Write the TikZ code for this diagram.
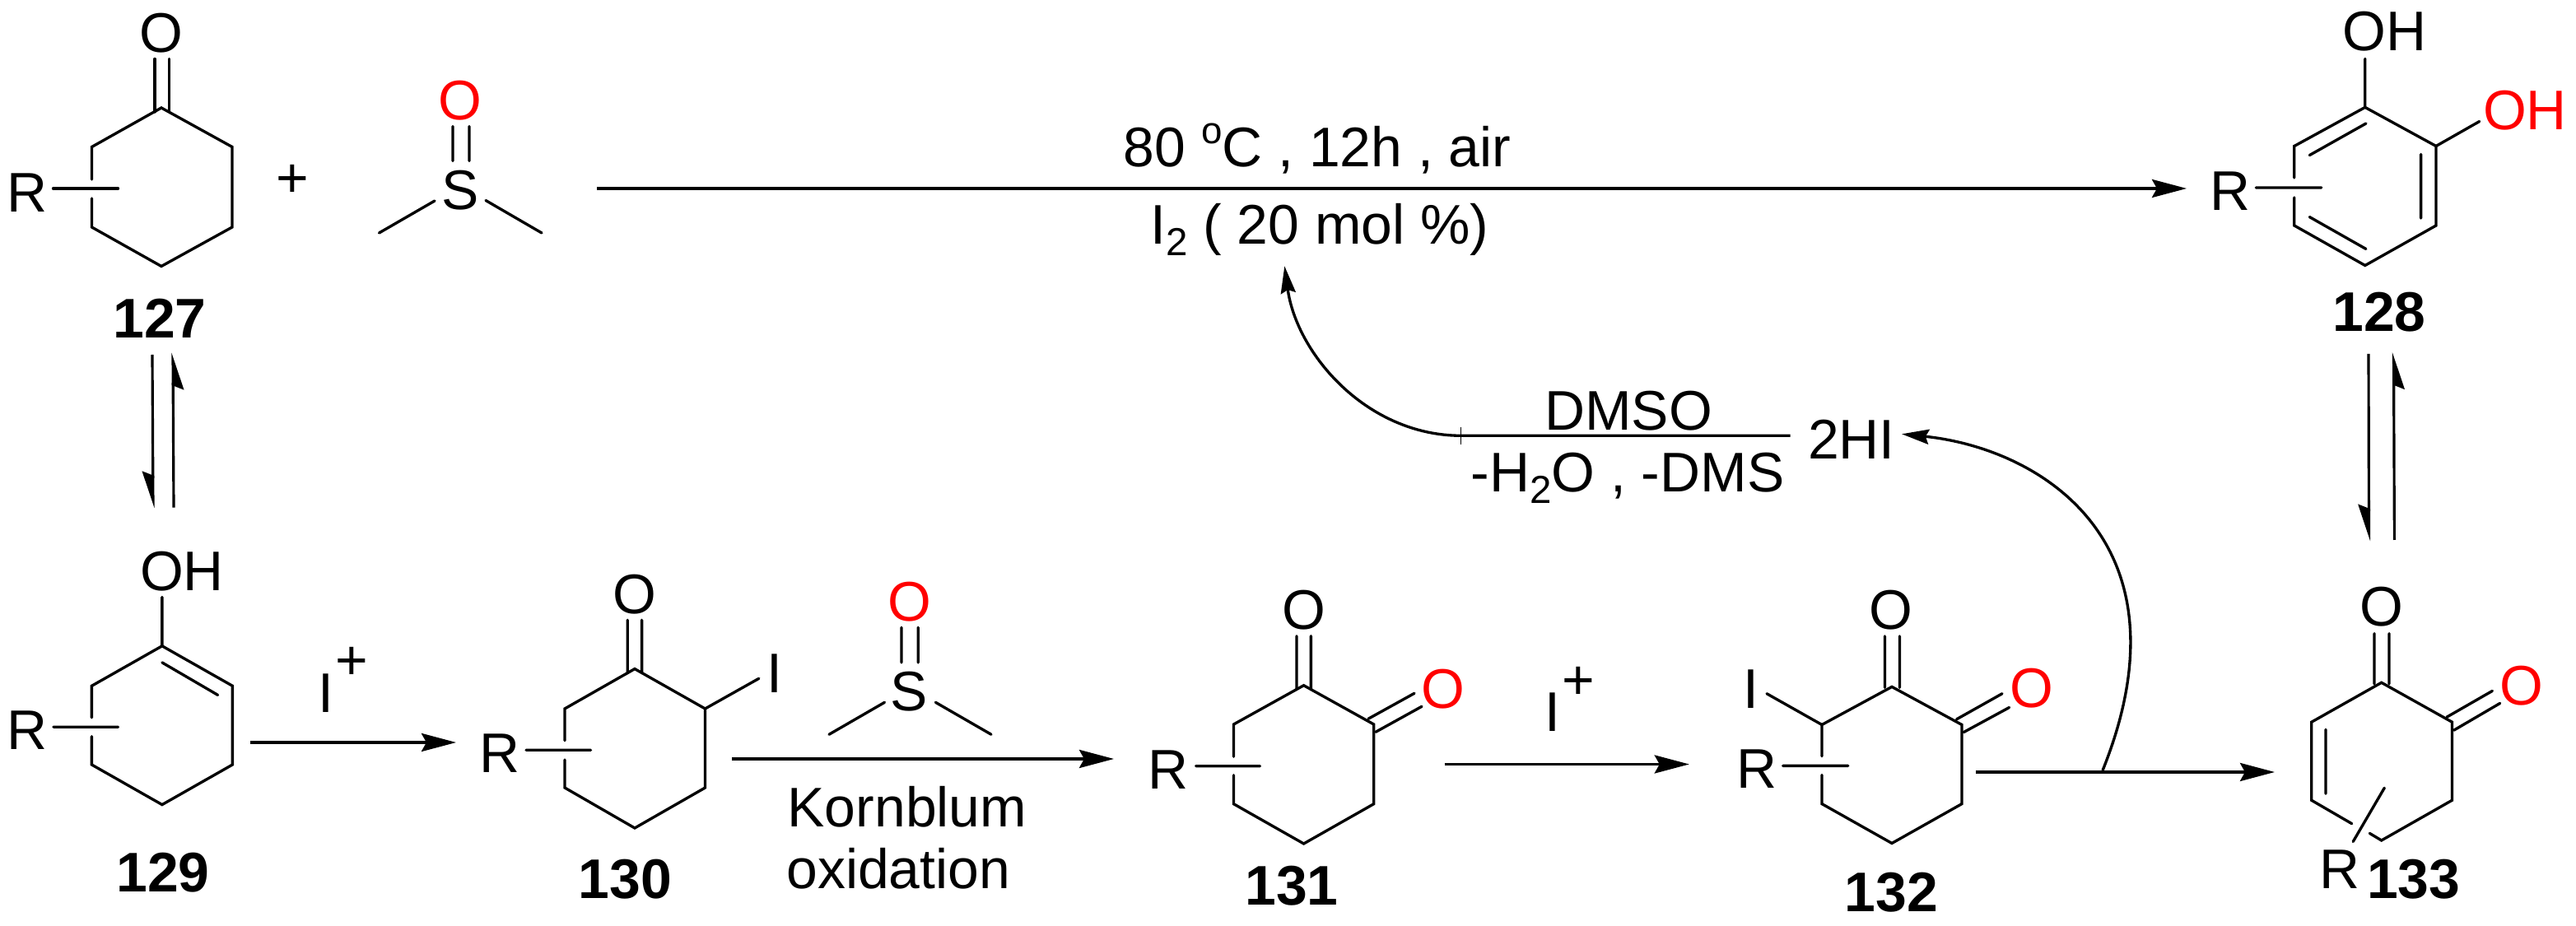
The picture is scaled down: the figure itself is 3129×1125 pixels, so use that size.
\documentclass[tikz,border=0pt]{standalone}
\usepackage{fontspec}
\setmainfont{Liberation Sans}
\usepackage{tikz}
\usetikzlibrary{arrows.meta,calc,positioning}
\newcommand{\chemsize}{\fontsize{19.3}{22}\selectfont}
\newcommand{\lowtwo}{\raisebox{-.14cm}{\fontsize{13.5}{13.5}\selectfont 2}}
\newcommand{\iplus}{I\hspace{.02cm}\raisebox{.39cm}{+}}
\tikzset{
  bond/.style={line width=.95pt,line cap=round,line join=miter},
  atom/.style={font=\chemsize,inner sep=0pt,text height=.48cm,text depth=0pt},
  tag/.style={atom,font=\chemsize\bfseries},
  rxn/.style={line width=1pt,-{Stealth[length=.42cm,width=.22cm,inset=.06cm]}},
  eqm/.style={line width=.9pt,-{Stealth[harpoon,swap,length=.4cm,width=.26cm,inset=.05cm]}},
  cycle head/.style={line width=.95pt,-{Stealth[length=.33cm,width=.18cm,inset=.04cm]}}
}
\begin{document}
\begin{tikzpicture}[x=.01cm,y=-.01cm]
\useasboundingbox (0,0) rectangle (3129,1125);
% 127
\draw[bond] (111.5,241) -- (111.5,276) -- (196,323.5) -- (282,276) -- (282,178.5) -- (196,131) -- (111.5,178.5) -- (111.5,218);
\draw[bond] (188,71.5) -- (188,136) (205.5,71.5) -- (205.5,136) (64.5,229) -- (143.5,229);
\node[atom] (o127) at (196,39) {O};
\node[atom] (r127) at (32.7,233) {R};
\node[tag] (tag127) at (194,386) {127};
\node[atom,text height=0pt] (plus) at (355,240) {+};
% dmso
\draw[bond] (550,153.5) -- (550,195.5) (570,153.5) -- (570,195.5) (460.5,283) -- (528,244) (590,243.5) -- (658,283);
\node[atom,red] (o1) at (559,121) {O};
\node[atom] (s1) at (559,230) {S};
% 128
\draw[bond] (2786.8,240) -- (2786.8,274) -- (2872.8,322.5) -- (2959,274) -- (2959,177.5) -- (2872.8,130.4) -- (2786.8,177.5) -- (2786.8,216);
\draw[bond] (2873.9,150) -- (2805.3,188.6) (2940.6,187.5) -- (2940.6,265) (2805.3,263.6) -- (2873.9,302.5);
\draw[bond] (2872.8,71.4) -- (2872.8,130.4) (2959,177.5) -- (3011.7,147.5) (2740.3,228) -- (2819.8,228);
\node[atom] (oh128a) at (2896.5,37.5) {OH};
\node[atom,red] (oh128b) at (3067,133) {OH};
\node[atom] (r128) at (2709,231) {R};
\node[tag] (tag128) at (2890,378) {128};
% 129
\draw[bond] (111.4,894.6) -- (111.4,929) -- (196.9,977.6) -- (282.4,929) -- (282.4,833.3) -- (196.9,784.8) -- (111.4,833.3) -- (111.4,871.8);
\draw[bond] (196.9,804.9) -- (264.6,844.4) (196.9,725.5) -- (196.9,784.8) (64.9,883.2) -- (143.5,883.2);
\node[atom] (oh129) at (221,693) {OH};
\node[atom] (r129) at (33,886) {R};
\node[tag] (tag129) at (198,1059.5) {129};
\node[atom,anchor=west] (iplusa) at (386,841) {\iplus};
% 130
\draw[bond] (686,923) -- (686,957) -- (771,1006) -- (856.5,957) -- (856.5,861) -- (771,812.6) -- (686,861) -- (686,899.6);
\draw[bond] (762.3,753.3) -- (762.3,817.6) (779.6,753.3) -- (779.6,817.6) (639,911.3) -- (717.6,911.3) (856.5,861) -- (921.8,824.3);
\node[atom] (o130) at (771,721) {O};
\node[atom] (i130) at (940.7,817) {I};
\node[atom] (r130) at (606.8,914.7) {R};
\node[tag] (tag130) at (759.5,1067.3) {130};
% dmso over the kornblum arrow
\draw[bond] (1095,762.3) -- (1095,805) (1115.3,762.3) -- (1115.3,805) (1007,892.3) -- (1074.5,853.3) (1136.4,853.3) -- (1204,892.3);
\node[atom,red] (o2) at (1104.4,730) {O};
\node[atom] (s2) at (1104.4,839.3) {S};
\node[atom,anchor=west] (korn) at (956,980) {Kornblum};
\node[atom,anchor=west] (oxid) at (954.7,1055.7) {oxidation};
% 131
\draw[bond] (1498.5,941.7) -- (1498.5,976.7) -- (1583.6,1025) -- (1668.7,976.7) -- (1668.7,880) -- (1583.6,832.7) -- (1498.5,880) -- (1498.5,919.3);
\draw[bond] (1575,772.7) -- (1575,836.7) (1592.4,772.7) -- (1592.4,836.7) (1662,873.3) -- (1718,842.3) (1671,889.3) -- (1727,858.3) (1452.7,930.7) -- (1530.5,930.7);
\node[atom] (o131a) at (1583.6,740) {O};
\node[atom,red] (o131b) at (1753,836) {O};
\node[atom] (r131) at (1419,934) {R};
\node[tag] (tag131) at (1569,1075.5) {131};
\node[atom,anchor=west] (iplusb) at (1876,864.7) {\iplus};
% 132
\draw[bond] (2213,941.5) -- (2213,976.6) -- (2298,1024.5) -- (2383,976.6) -- (2383,880.5) -- (2298,834.4) -- (2213,880.5) -- (2213,918.7);
\draw[bond] (2289.4,773) -- (2289.4,835.4) (2307.4,773) -- (2307.4,835.4) (2376.5,873.9) -- (2432,842.7) (2385.2,889.6) -- (2440.6,859.5) (2213,880.5) -- (2146,842.7) (2165.6,930.4) -- (2244.8,930.4);
\node[atom] (o132a) at (2297.3,740) {O};
\node[atom,red] (o132b) at (2468,835.4) {O};
\node[atom] (i132) at (2126.7,836) {I};
\node[atom] (r132) at (2134.3,933.4) {R};
\node[tag] (tag132) at (2297.3,1083.4) {132};
% 133
\draw[bond] (2856.7,1000.7) -- (2807.8,972.3) -- (2807.8,877.2) -- (2892.7,829.3) -- (2978.4,877.2) -- (2978.4,972.3) -- (2892.7,1021) -- (2878.3,1012.4);
\draw[bond] (2825,886.2) -- (2825,964.2) (2896.3,957.2) -- (2858.2,1022.5) (2884,769.7) -- (2884,831) (2902,769.7) -- (2902,831) (2972,871.2) -- (3027.4,839.4) (2980.6,887.2) -- (3036.7,854.4);
\node[atom] (o133a) at (2892.7,736.6) {O};
\node[atom,red] (o133b) at (3062.6,832.7) {O};
\node[atom] (r133) at (2842,1055) {R};
\node[tag] (tag133) at (2931.6,1067) {133};
% top arrow
\coordinate (topstart) at (725,229);
\coordinate (topend) at (2656,229);
\draw[rxn] (topstart) -- (topend);
\node[atom] (cond) at (1600,178) {80 \raisebox{.27cm}{\fontsize{13}{13}\selectfont o}C , 12h , air};
\node[atom] (cat) at (1603,272) {I\lowtwo{} ( 20 mol \%)};
% equilibria
\coordinate (e1a) at (185,431);
\coordinate (e1b) at (186,617.4);
\coordinate (e1c) at (211,616.7);
\coordinate (e1d) at (210,428.6);
\draw[eqm] (e1a) -- (e1b);
\draw[eqm] (e1c) -- (e1d);
\coordinate (e2a) at (2877,430);
\coordinate (e2b) at (2877.5,657.6);
\coordinate (e2c) at (2908.4,656);
\coordinate (e2d) at (2907.5,428);
\draw[eqm] (e2a) -- (e2b);
\draw[eqm] (e2c) -- (e2d);
% lower arrows
\coordinate (a1) at (304,902);
\coordinate (a2) at (554,902);
\coordinate (b1) at (889,922);
\coordinate (b2) at (1353,922);
\coordinate (c1) at (1754.5,928.5);
\coordinate (c2) at (2051.8,928.5);
\coordinate (d1) at (2400.3,938);
\coordinate (d2) at (2763,938);
\draw[rxn] (a1) -- (a2);
\draw[rxn] (b1) -- (b2);
\draw[rxn] (c1) -- (c2);
\draw[rxn] (d1) -- (d2);
% hi cycle
\node[atom] (dmsotext) at (1978,498) {DMSO};
\node[atom] (loss) at (1977,573) {-H\lowtwo{}O , -DMS};
\node[atom] (hi) at (2249,533.5) {2HI};
\coordinate (linestart) at (2174.7,529.3);
\coordinate (tick) at (1774.6,529.3);
\coordinate (cattip) at (1560.3,323.3);
\coordinate (forkpt) at (2554,936);
\coordinate (hitip) at (2310,527.3);
\draw[cycle head] (linestart) -- (tick) .. controls (1660,529) and (1575,430) .. (cattip);
\draw[line width=.4pt] ($(tick)+(0,-10.5)$) -- ($(tick)+(0,10.5)$);
\draw[cycle head] (forkpt) .. controls (2665,660) and (2480,545) .. (hitip);
\end{tikzpicture}
\end{document}
